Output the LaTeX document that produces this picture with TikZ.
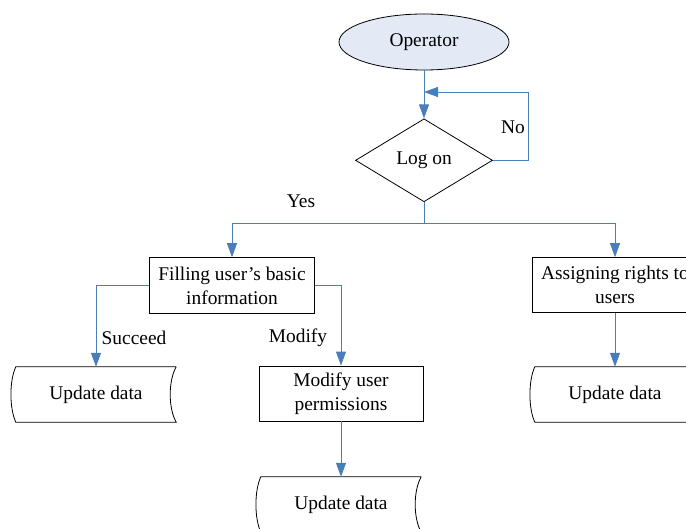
\documentclass[tikz,border=0pt]{standalone}
\usepackage{fontspec}
\setmainfont{Liberation Serif}
\usetikzlibrary{shapes.geometric,arrows.meta}
\definecolor{flowblue}{RGB}{74,126,187}
\definecolor{opfill}{RGB}{228,234,245}
\tikzset{
  every node/.style={font=\fontsize{19.4}{24}\selectfont},
  box/.style={rectangle,draw,line width=0.8pt,align=center,inner sep=2pt},
  flow/.style={draw=flowblue,line width=0.9pt},
  >={Triangle[length=14pt,width=10pt]}
}
\begin{document}
\begin{tikzpicture}
    \useasboundingbox (0,0) rectangle (686pt,-529pt);
    \node[ellipse,draw,line width=0.8pt,fill=opfill,minimum width=170pt,minimum height=56pt] (operator) at (424pt,-42pt) {Operator};
    \node[diamond,draw,line width=0.8pt,inner sep=0pt,aspect=1.65,minimum width=137pt,minimum height=83pt,below=48pt] (logon) at (operator.south) {Log on};
    \coordinate (retry) at (424pt,-92pt);
    \coordinate[below=21pt] (split) at (logon.south);
    \node[box,minimum width=165pt,minimum height=56pt,below=34pt,xshift=-192pt] (filling) at (split) {Filling user’s basic\\information};
    \node[box,minimum width=166pt,minimum height=55pt,below=34pt,xshift=191pt] (assign) at (split) {Assigning rights to\\users};
    \node[minimum width=160pt,minimum height=55pt] (upd1) at (96pt,-394.5pt) {Update data};
    \node[box,minimum width=164pt,minimum height=55pt] (modify) at (341pt,-393.5pt) {Modify user\\permissions};
    \node[minimum width=160pt,minimum height=55pt] (upd2) at (615pt,-394.5pt) {Update data};
    \node[minimum width=160pt,minimum height=55pt] (upd3) at (341pt,-504.5pt) {Update data};
    \node (yes) at (301pt,-201pt) {Yes};
    \node (no) at (513pt,-127pt) {No};
    \node (succeed) at (134pt,-338pt) {Succeed};
    \node (modlabel) at (298pt,-338pt) {Modify};

    % stored data outlines
    \foreach \n in {upd1,upd2,upd3}
      \draw[line width=0.8pt] (\n.north east) -- (\n.north west)
        .. controls +(-6.5pt,-14pt) and +(-6.5pt,14pt) .. (\n.south west)
        -- (\n.south east)
        .. controls +(-8pt,14pt) and +(-8pt,-14pt) .. (\n.north east);

    \draw[flow,->] (operator) -- (logon);
    \draw[flow,->] (logon.east) -- ++(36pt,0) |- (retry);
    \draw[flow] (logon.south) -- (split);
    \draw[flow,->] (split) -| (filling.north);
    \draw[flow,->] (split) -| (assign.north);
    \draw[flow,->] (filling.west) -| (upd1.north);
    \draw[flow,->] (filling.east) -| (modify.north);
    \draw[flow,->] (modify) -- (upd3);
    \draw[flow,->] (assign) -- (upd2);
\end{tikzpicture}
\end{document}
